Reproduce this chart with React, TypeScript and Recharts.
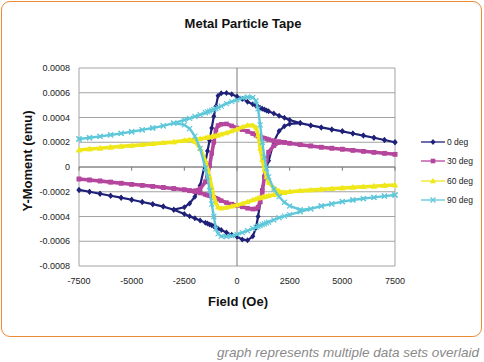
import React from 'react';
import { ScatterChart, Scatter, XAxis, YAxis, CartesianGrid, ReferenceLine } from 'recharts';

const FONT = '"Liberation Sans", Arial, sans-serif';

// Field sweep in Oe: down branch runs +7500 -> -7500, up branch -7500 -> +7500
const FIELD_DOWN = [
  7500, 7000, 6500, 6000, 5500, 5000, 4500, 4000, 3500, 3000, 2500, 2250, 2000, 1750, 1500, 1400, 1300,
  1200, 1100, 1000, 900, 750, 500, 250, 0, -250, -500, -750, -900, -1000, -1100, -1200, -1300, -1400,
  -1500, -1750, -2000, -2250, -2500, -3000, -3500, -4000, -4500, -5000, -5500, -6000, -6500, -7000, -7500,
];
const FIELD_UP = [
  -7500, -7000, -6500, -6000, -5500, -5000, -4500, -4000, -3500, -3000, -2500, -2250, -2000, -1750, -1500,
  -1400, -1300, -1200, -1100, -1000, -900, -750, -500, -250, 0, 250, 500, 750, 900, 1000, 1100, 1200, 1300,
  1400, 1500, 1750, 2000, 2250, 2500, 3000, 3500, 4000, 4500, 5000, 5500, 6000, 6500, 7000, 7500,
];

// Y-moment, in units of 1e-4 emu
const DEG0_DOWN = [
  2.0, 2.18, 2.36, 2.54, 2.71, 2.88, 3.04, 3.2, 3.36, 3.55, 3.8, 3.97, 4.15, 4.33, 4.5, 4.57, 4.64,
  4.71, 4.79, 4.87, 4.95, 5.07, 5.28, 5.5, 5.7, 5.88, 5.98, 5.95, 5.75, 4.9, 4.1, 3.15, 2.15, 1.3,
  0.4, -1.5, -2.4, -2.95, -3.25, -3.45, -3.2, -3.0, -2.83, -2.65, -2.48, -2.32, -2.16, -2.0, -1.85,
];
const DEG0_UP = [
  -1.85, -2.0, -2.16, -2.32, -2.48, -2.65, -2.83, -3.0, -3.2, -3.45, -3.8, -3.98, -4.15, -4.33, -4.5,
  -4.57, -4.64, -4.71, -4.79, -4.88, -4.97, -5.1, -5.3, -5.47, -5.63, -5.85, -5.92, -5.6, -4.9, -4.0, -2.9, -1.8, -0.7,
  0.0, 0.5, 2.05, 2.9, 3.3, 3.48, 3.55, 3.36, 3.2, 3.04, 2.88, 2.71, 2.54, 2.36, 2.18, 2.0,
];
const DEG30_DOWN = [
  1.03, 1.11, 1.19, 1.27, 1.35, 1.44, 1.52, 1.6, 1.7, 1.8, 1.92, 1.98, 2.05, 2.12, 2.22, 2.27, 2.32,
  2.37, 2.43, 2.5, 2.57, 2.7, 2.88, 3.02, 3.15, 3.32, 3.48, 3.45, 3.35, 3.0, 2.0, 1.1, 0.1, -0.7,
  -1.2, -1.75, -1.92, -1.9, -1.84, -1.74, -1.65, -1.56, -1.48, -1.4, -1.31, -1.22, -1.13, -1.05, -0.97,
];
const DEG30_UP = [
  -0.97, -1.05, -1.13, -1.22, -1.31, -1.4, -1.48, -1.56, -1.65, -1.74, -1.84, -1.92, -2.0, -2.1, -2.22,
  -2.27, -2.32, -2.38, -2.44, -2.52, -2.6, -2.72, -2.88, -3.0, -3.1, -3.22, -3.33, -3.4, -3.38, -3.25, -2.8, -2.0, -0.8,
  0.6, 1.2, 1.72, 1.98, 2.0, 1.92, 1.8, 1.7, 1.6, 1.52, 1.44, 1.35, 1.27, 1.19, 1.11, 1.03,
];
const DEG60_DOWN = [
  -1.45, -1.5, -1.55, -1.6, -1.65, -1.7, -1.76, -1.81, -1.87, -1.93, -2.0, -2.08, -2.16, -2.24, -2.33, -2.37, -2.41,
  -2.44, -2.48, -2.53, -2.58, -2.67, -2.83, -2.96, -3.08, -3.18, -3.28, -3.34, -3.25, -2.9, -2.4, -1.6, -0.8, -0.1,
  0.5, 1.5, 2.05, 2.2, 2.14, 2.02, 1.95, 1.87, 1.8, 1.73, 1.67, 1.6, 1.52, 1.45, 1.37,
];
const DEG60_UP = [
  1.37, 1.45, 1.52, 1.6, 1.67, 1.73, 1.8, 1.87, 1.95, 2.02, 2.12, 2.17, 2.22, 2.28, 2.35,
  2.38, 2.42, 2.45, 2.49, 2.53, 2.57, 2.64, 2.75, 2.9, 3.05, 3.22, 3.36, 3.36, 3.2, 2.6, 1.5, 0.6, -0.2,
  -0.8, -1.25, -1.7, -1.95, -2.05, -2.0, -1.93, -1.87, -1.81, -1.76, -1.7, -1.65, -1.6, -1.55, -1.5, -1.45,
];
const DEG90_DOWN = [
  -2.26, -2.35, -2.45, -2.55, -2.67, -2.8, -2.98, -3.15, -3.38, -3.62, -3.85, -3.97, -4.1, -4.28, -4.45, -4.52, -4.59,
  -4.66, -4.73, -4.8, -4.87, -4.97, -5.15, -5.3, -5.45, -5.56, -5.62, -5.6, -5.4, -5.0, -4.0, -3.0, -1.9, -0.8,
  -0.1, 1.5, 2.5, 3.1, 3.4, 3.55, 3.32, 3.15, 3.0, 2.85, 2.72, 2.59, 2.47, 2.36, 2.26,
];
const DEG90_UP = [
  2.26, 2.36, 2.47, 2.59, 2.72, 2.85, 3.0, 3.15, 3.32, 3.55, 3.8, 3.93, 4.08, 4.22, 4.38,
  4.45, 4.52, 4.58, 4.65, 4.72, 4.8, 4.92, 5.12, 5.28, 5.42, 5.56, 5.66, 5.62, 5.35, 4.7, 3.4, 2.0, 0.8,
  -0.1, -0.8, -1.8, -2.4, -2.85, -3.15, -3.45, -3.38, -3.15, -2.98, -2.8, -2.67, -2.55, -2.45, -2.35, -2.26,
];

const X_TICKS = [-7500, -5000, -2500, 0, 2500, 5000, 7500];
const Y_TICKS = [-0.0008, -0.0006, -0.0004, -0.0002, 0, 0.0002, 0.0004, 0.0006, 0.0008];
const EMU = 1e-4;

const loop = (down: number[], up: number[]) => [
  ...FIELD_DOWN.map((x, i) => ({ x, y: down[i] * EMU })),
  ...FIELD_UP.map((x, i) => ({ x, y: up[i] * EMU })),
];

const SERIES = [
  { name: '0 deg', color: '#1f2178', marker: 'diamond', width: 2.2, data: loop(DEG0_DOWN, DEG0_UP) },
  { name: '30 deg', color: '#b5469e', marker: 'square', width: 3.6, data: loop(DEG30_DOWN, DEG30_UP) },
  { name: '60 deg', color: '#efe71a', marker: 'triangle', width: 3.6, data: loop(DEG60_DOWN, DEG60_UP) },
  { name: '90 deg', color: '#5ec8da', marker: 'x', width: 2.4, data: loop(DEG90_DOWN, DEG90_UP) },
];

function Marker({ kind, color, cx, cy }: { kind: string; color: string; cx: number; cy: number }) {
  if (cx == null || cy == null) return <g />;
  if (kind === 'diamond')
    return <polygon points={`${cx},${cy - 3} ${cx + 2.5},${cy} ${cx},${cy + 3} ${cx - 2.5},${cy}`} fill={color} />;
  if (kind === 'square') return <rect x={cx - 2.3} y={cy - 2.3} width={4.6} height={4.6} fill={color} />;
  if (kind === 'triangle')
    return <polygon points={`${cx},${cy - 3.2} ${cx + 3},${cy + 2.2} ${cx - 3},${cy + 2.2}`} fill={color} />;
  return (
    <path
      d={`M${cx - 2.5},${cy - 2.5}L${cx + 2.5},${cy + 2.5}M${cx - 2.5},${cy + 2.5}L${cx + 2.5},${cy - 2.5}`}
      stroke={color}
      strokeWidth={1.2}
    />
  );
}

export default function App() {
  return (
    <div style={{ position: 'absolute', left: 0, top: 0, width: 484, height: 362, background: '#fff', fontFamily: FONT }}>
      <div
        style={{
          position: 'absolute', left: 1, top: 1, width: 481, height: 336, boxSizing: 'border-box',
          border: '1.5px solid #ec8a36', borderRadius: 9,
        }}
      />
      <div style={{ position: 'absolute', left: 0, top: 16, width: 486, textAlign: 'center', fontSize: 13, fontWeight: 'bold', color: '#111' }}>
        Metal Particle Tape
      </div>
      <div
        style={{
          position: 'absolute', left: 27, top: 161, transform: 'translate(-50%, -50%) rotate(-90deg)',
          whiteSpace: 'nowrap', fontSize: 13, fontWeight: 'bold', color: '#111',
        }}
      >
        Y-Moment (emu)
      </div>
      <div style={{ position: 'absolute', left: 138, top: 294, width: 200, textAlign: 'center', fontSize: 13, fontWeight: 'bold', color: '#111' }}>
        Field (Oe)
      </div>

      <div style={{ position: 'absolute', left: 0, top: 0 }}>
        <ScatterChart width={484} height={362} margin={{ top: 68, right: 89, bottom: 66, left: 29 }}>
          <CartesianGrid vertical={false} stroke="#a3a3a3" strokeWidth={1} />
          <XAxis
            type="number"
            dataKey="x"
            domain={[-7500, 7500]}
            ticks={X_TICKS}
            axisLine={false}
            tickLine={false}
            tickMargin={6}
            height={30}
            tick={{ fontSize: 9, fill: '#222', fontFamily: FONT }}
          />
          <YAxis
            type="number"
            dataKey="y"
            domain={[-0.0008, 0.0008]}
            ticks={Y_TICKS}
            tickFormatter={(v: number) => (v === 0 ? '0' : v.toFixed(4))}
            axisLine={false}
            tickLine={false}
            tickMargin={3}
            width={50}
            tick={{ fontSize: 9, fill: '#222', fontFamily: FONT }}
          />
          <ReferenceLine x={-7500} stroke="#a3a3a3" />
          <ReferenceLine x={7500} stroke="#a3a3a3" />
          <ReferenceLine x={0} stroke="#7a7a7a" />
          <ReferenceLine y={0} stroke="#7a7a7a" />
          {X_TICKS.map((t) => (
            <ReferenceLine key={t} segment={[{ x: t, y: 0 }, { x: t, y: -0.00003 }]} stroke="#7a7a7a" />
          ))}
          {SERIES.map((s) => (
            <Scatter
              key={s.name}
              name={s.name}
              data={s.data}
              fill={s.color}
              line={{ stroke: s.color, strokeWidth: s.width }}
              lineType="joint"
              shape={(p: any) => <Marker kind={s.marker} color={s.color} cx={p.cx} cy={p.cy} />}
              isAnimationActive={false}
            />
          ))}
        </ScatterChart>
      </div>

      <div style={{ position: 'absolute', left: 421, top: 132 }}>
        {SERIES.map((s) => (
          <div key={s.name} style={{ display: 'flex', alignItems: 'center', height: 19.5 }}>
            <svg width={25} height={8}>
              <line x1={0} y1={4} x2={24} y2={4} stroke={s.color} strokeWidth={1.3} />
              <Marker kind={s.marker} color={s.color} cx={12} cy={4} />
            </svg>
            <span style={{ fontSize: 8.5, color: '#222', marginLeft: 1 }}>{s.name}</span>
          </div>
        ))}
      </div>

      <div
        style={{
          position: 'absolute', right: 5, top: 345, fontSize: 13.5, fontStyle: 'italic', color: '#8a8a8a', whiteSpace: 'nowrap',
        }}
      >
        graph represents multiple data sets overlaid
      </div>
    </div>
  );
}
